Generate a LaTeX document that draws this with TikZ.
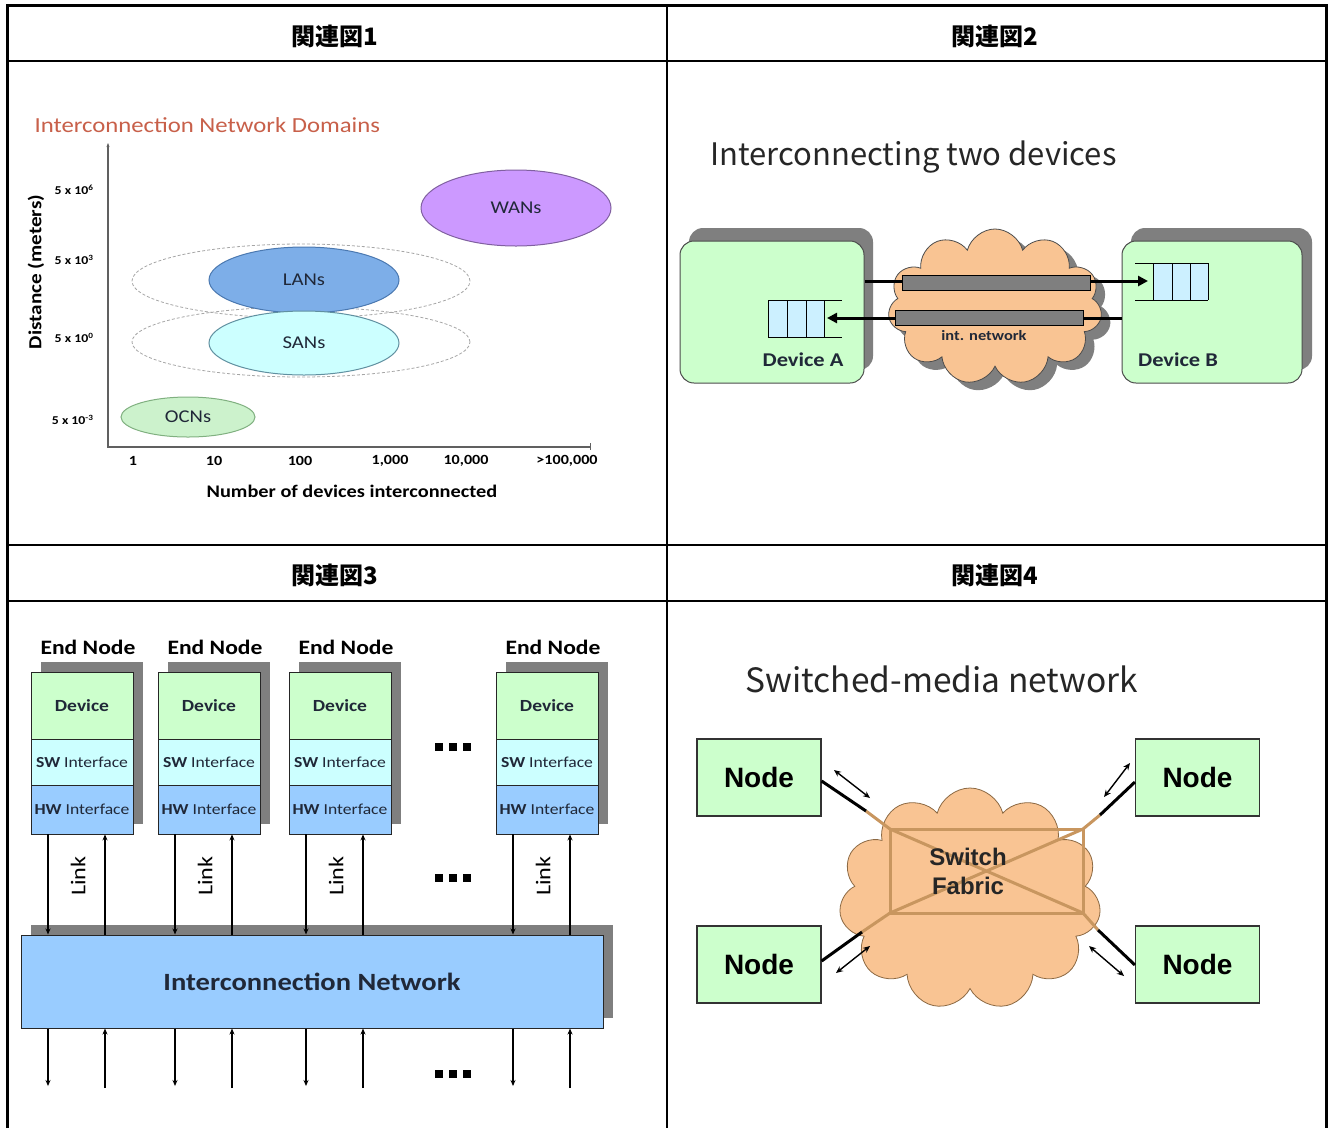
\documentclass[tikz,border=0pt]{standalone}
\usepackage{fontspec}
\setmainfont[FakeStretch=1.15]{Carlito}
\newfontfamily\jpfont{Noto Sans CJK JP}
\newfontfamily\arialfont{Liberation Sans}
\usetikzlibrary{shapes.geometric,shapes.symbols,arrows.meta}
\definecolor{titlered}{HTML}{C8604A}
\definecolor{wanfill}{HTML}{CC99FF}
\definecolor{wandraw}{HTML}{8060A0}
\definecolor{lanfill}{HTML}{7DAEE8}
\definecolor{landraw}{HTML}{4A78B0}
\definecolor{sanfill}{HTML}{CCFFFF}
\definecolor{sandraw}{HTML}{6090A0}
\definecolor{ocnfill}{HTML}{CCF2CC}
\definecolor{ocndraw}{HTML}{80B080}
\definecolor{devgreen}{HTML}{CCFFCC}
\definecolor{swcyan}{HTML}{CCFFFF}
\definecolor{hwblue}{HTML}{99CCFF}
\definecolor{shadowgray}{HTML}{7F7F7F}
\definecolor{cloudorange}{HTML}{F9C493}
\definecolor{fabricbrown}{HTML}{C8965F}
\definecolor{queueblue}{HTML}{CCF0FF}
\definecolor{axisgray}{HTML}{606060}
\definecolor{textdark}{HTML}{202838}
\begin{document}
\begin{tikzpicture}[x=1pt,y=-1pt,
  hdr/.style={font=\jpfont\bfseries\fontsize{24}{28}\selectfont},
  outerline/.style={line width=3pt},
  innerline/.style={line width=1.6pt},
  ylab/.style={font=\bfseries\fontsize{12}{14}\selectfont, anchor=east},
  xlab/.style={font=\bfseries\fontsize{14}{16}\selectfont},
  domainshape/.style={ellipse, draw, line width=1pt, inner sep=0pt, font=\fontsize{18}{20}\selectfont, text=textdark},
  dashring/.style={draw=gray!70, densely dashed, line width=0.8pt},
  devbox/.style={draw=gray!60!black, fill=devgreen, rounded corners=14pt, line width=1pt},
  pipebar/.style={draw=black, fill=shadowgray, line width=0.8pt},
  thickarrow/.style={line width=3pt, -{Triangle[length=10pt,width=10pt]}},
  layer/.style={draw=gray!30!black, line width=0.8pt, minimum width=102pt, inner sep=0pt},
  linkarrow/.style={line width=1.2pt, -{Stealth[length=6pt,width=5pt]}},
  netnode/.style={draw=gray!40!black, fill=devgreen, line width=1.2pt, minimum width=124pt, minimum height=77pt, font=\arialfont\bfseries\fontsize{28}{30}\selectfont},
  spoke/.style={line width=3pt},
  brownline/.style={draw=fabricbrown, line width=3pt},
  duplex/.style={line width=1.4pt, {Stealth[length=7pt,width=6pt]}-{Stealth[length=7pt,width=6pt]}}
]
\useasboundingbox (0,0) rectangle (1329,1128);
\fill[white] (0,0) rectangle (1329,1128);

% ================= table =================
\draw[innerline] (7,61) -- (1326,61);
\draw[innerline] (7,545) -- (1326,545);
\draw[innerline] (7,601) -- (1326,601);
\draw[innerline] (667,5) -- (667,1128);
\draw[outerline] (7,1128) -- (7,5) -- (1326,5) -- (1326,1128);
\node[hdr] (h1) at (335,36) {関連図1};
\node[hdr] (h2) at (995,36) {関連図2};
\node[hdr] (h3) at (335,575) {関連図3};
\node[hdr] (h4) at (995,575) {関連図4};

% ================= panel 1 =================
\node[anchor=west, text=titlered, font=\fontsize{21.5}{24}\selectfont] (t1) at (31,125) {Interconnection Network Domains};
\draw[axisgray, line width=1.2pt, {Stealth[length=4pt,width=3pt]}-] (108,143) -- (108,447) -- (590,447);
\draw[axisgray, line width=1pt] (590,443) -- (590,450);
\node[ylab] (y1) at (97,190) {5 x 10\textsuperscript{6}};
\node[ylab] (y2) at (97,260) {5 x 10\textsuperscript{3}};
\node[ylab] (y3) at (97,338) {5 x 10\textsuperscript{0}};
\node[ylab] (y4) at (97,420) {5 x 10\textsuperscript{-3}};
\node[rotate=90, font=\bfseries\fontsize{18.4}{20}\selectfont] (yt) at (36,272) {Distance (meters)};
\node[xlab] (x1) at (133,461) {1};
\node[xlab] (x2) at (214,461) {10};
\node[xlab] (x3) at (300,461) {100};
\node[xlab] (x4) at (390,461) {1,000};
\node[xlab] (x5) at (466,461) {10,000};
\node[xlab] (x6) at (567,461) {>100,000};
\node[font=\bfseries\fontsize{17.7}{20}\selectfont] (xt) at (352,491) {Number of devices interconnected};
\draw[dashring] (301,281) ellipse [x radius=169pt, y radius=37pt];
\draw[dashring] (301,342) ellipse [x radius=169pt, y radius=35pt];
\node[domainshape, fill=wanfill, draw=wandraw, minimum width=190pt, minimum height=76pt] (wan) at (516,208) {WANs};
\node[domainshape, fill=lanfill, draw=landraw, minimum width=190pt, minimum height=66pt] (lan) at (304,280) {LANs};
\node[domainshape, fill=sanfill, draw=sandraw, minimum width=190pt, minimum height=64pt] (san) at (304,343) {SANs};
\node[domainshape, fill=ocnfill, draw=ocndraw, minimum width=134pt, minimum height=40pt] (ocn) at (188,417) {OCNs};

% ================= panel 2 =================
\node[anchor=west, font=\jpfont\fontsize{31}{34}\selectfont, text=black!85] (t2) at (707,157) {Interconnecting two devices};
\fill[shadowgray, rounded corners=14pt] (689,228) rectangle (873,370);
\fill[shadowgray, rounded corners=14pt] (1131,228) rectangle (1312,370);
\node[devbox, minimum width=184pt, minimum height=142pt] (devA) at (772,312) {};
\node[devbox, minimum width=180pt, minimum height=142pt] (devB) at (1212,312) {};
\node[cloud, cloud puffs=11, aspect=1.3, fill=shadowgray, minimum width=214pt, minimum height=156pt, inner sep=0pt] (cloudsh) at (1004,315) {};
\node[cloud, cloud puffs=11, aspect=1.3, fill=cloudorange, draw=gray!60!black, line width=0.8pt, minimum width=214pt, minimum height=156pt, inner sep=0pt] (cloudA) at (995,307) {};
% queues
\fill[queueblue] (1153,263) rectangle (1208,300);
\draw[line width=1pt] (1135,263) -- (1208,263) (1135,300) -- (1208,300);
\draw[line width=1pt] (1153,263) -- (1153,300) (1172,263) -- (1172,300) (1190,263) -- (1190,300) (1208,263) -- (1208,300);
\coordinate (qB) at (1148,281);
\fill[queueblue] (768,300) rectangle (824,337);
\draw[line width=1pt] (768,300) -- (842,300) (768,337) -- (842,337);
\draw[line width=1pt] (768,300) -- (768,337) (787,300) -- (787,337) (806,300) -- (806,337) (824,300) -- (824,337);
\coordinate (qA) at (827,318);
\draw[thickarrow] (devA.east |- qB) -- (qB);
\draw[thickarrow] (devB.west |- qA) -- (qA);
\node[pipebar, minimum width=188pt, minimum height=15pt, inner sep=0pt] (bar1) at (996,283) {};
\node[pipebar, minimum width=188pt, minimum height=15pt, inner sep=0pt] (bar2) at (989,318) {};
\node[font=\bfseries\fontsize{14.3}{16}\selectfont, text=textdark] (intnet) at (984,336) {int. network};
\node[font=\bfseries\fontsize{19.5}{22}\selectfont, text=textdark] (labA) at (803,360) {Device A};
\node[font=\bfseries\fontsize{19.5}{22}\selectfont, text=textdark] (labB) at (1178,360) {Device B};

% ================= panel 3 =================
\foreach \L/\nm in {31/a,158/b,289/c,496/d}{
  \fill[shadowgray] (\L+10,662) rectangle (\L+112,824);
  \node[layer, fill=devgreen, minimum height=67pt, font=\bfseries\fontsize{17}{19}\selectfont, text=textdark] (dev\nm) at (\L+51,705.5) {Device};
  \node[layer, fill=swcyan, minimum height=46pt, font=\fontsize{15.3}{18}\selectfont, text=textdark] (sw\nm) at (\L+51,762) {\textbf{SW} Interface};
  \node[layer, fill=hwblue, minimum height=49pt, font=\fontsize{15.3}{18}\selectfont, text=textdark] (hw\nm) at (\L+51,809.5) {\textbf{HW} Interface};
  \node[font=\bfseries\fontsize{20.5}{23}\selectfont] (en\nm) at (\L+57,647) {End Node};
}
\fill[shadowgray] (31,925) rectangle (613,1018);
\node[draw=gray!30!black, fill=hwblue, line width=1pt, minimum width=582pt, minimum height=93pt, font=\bfseries\fontsize{24.8}{27}\selectfont, text=textdark] (net) at (312,981.5) {Interconnection Network};
\foreach \L/\nm in {31/a,158/b,289/c,496/d}{
  \coordinate (dn\nm) at (\L+17,1086);
  \coordinate (up\nm) at (\L+74,1088);
  \draw[linkarrow] (hw\nm.south -| dn\nm) -- (net.north -| dn\nm);
  \draw[linkarrow] (net.north -| up\nm) -- (hw\nm.south -| up\nm);
  \draw[linkarrow] (net.south -| dn\nm) -- (dn\nm);
  \draw[linkarrow] (up\nm) -- (net.south -| up\nm);
  \node[rotate=90, font=\fontsize{21}{23}\selectfont] (lk\nm) at (\L+47,876) {Link};
}
\foreach \yy in {747,878,1074}{
  \fill (435,\yy-4) rectangle (443,\yy+4);
  \fill (449,\yy-4) rectangle (457,\yy+4);
  \fill (463,\yy-4) rectangle (471,\yy+4);
}

% ================= panel 4 =================
\node[anchor=west, font=\jpfont\fontsize{33.5}{36}\selectfont, text=black!85] (t4) at (742,679) {Switched-media network};
\node[cloud, cloud puffs=11, aspect=1.15, fill=cloudorange, draw=fabricbrown!70!black, line width=0.8pt, minimum width=262pt, minimum height=222pt, inner sep=0pt] (cloudB) at (970,899) {};
\node[netnode] (ntl) at (759,777.5) {Node};
\node[netnode] (ntr) at (1197.5,777.5) {Node};
\node[netnode] (nbl) at (759,964.5) {Node};
\node[netnode] (nbr) at (1197.5,964.5) {Node};
\coordinate (rtl) at (890,829);
\coordinate (rtr) at (1083,829);
\coordinate (rbl) at (890,913);
\coordinate (rbr) at (1083,913);
\draw[brownline] (rtl) rectangle (rbr);
\draw[brownline] (rtl) -- (rbr) (rtr) -- (rbl);
\coordinate (etl) at (866,811);
\coordinate (etr) at (1100,815);
\coordinate (ebl) at (862,932);
\coordinate (ebr) at (1098,930);
\draw[brownline] (etl) -- (rtl) (etr) -- (rtr) (ebl) -- (rbl) (ebr) -- (rbr);
\draw[spoke] (ntl.east |- 0,781) -- (etl);
\draw[spoke] (ntr.west |- 0,782) -- (etr);
\draw[spoke] (nbl.east |- 0,961) -- (ebl);
\draw[spoke] (nbr.west |- 0,965) -- (ebr);
\draw[duplex] (834,770) -- (870,798);
\draw[duplex] (1104,797) -- (1130,763);
\draw[duplex] (836,973) -- (870,946);
\draw[duplex] (1089,946) -- (1124,976);
\node[align=center, font=\arialfont\bfseries\fontsize{24}{29}\selectfont, text=black!85] (fab) at (968,871) {Switch\\Fabric};
\end{tikzpicture}
\end{document}
